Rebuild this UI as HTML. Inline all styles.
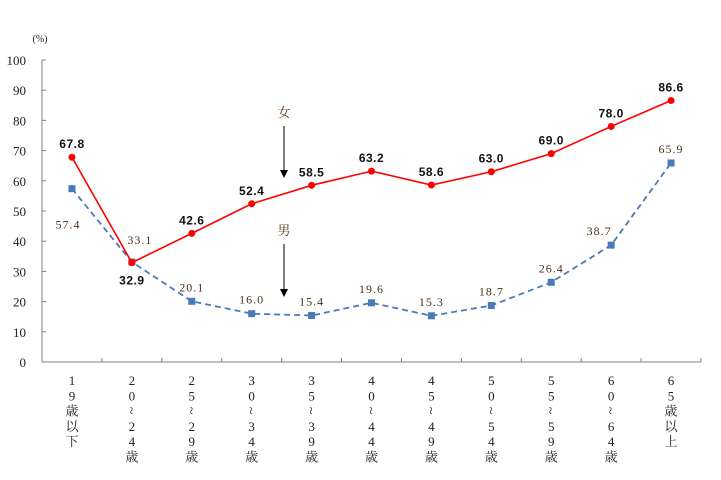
<!DOCTYPE html>
<html><head><meta charset="utf-8"><style>
body{margin:0;background:#fff}
svg{display:block}
</style></head><body>
<svg id="c" width="721" height="480" xmlns="http://www.w3.org/2000/svg"></svg>
<script>
const categories=[["1","9","歳","以","下"],["2","0","~","2","4","歳"],["2","5","~","2","9","歳"],["3","0","~","3","4","歳"],["3","5","~","3","9","歳"],["4","0","~","4","4","歳"],["4","5","~","4","9","歳"],["5","0","~","5","4","歳"],["5","5","~","5","9","歳"],["6","0","~","6","4","歳"],["6","5","歳","以","上"]];
const female=[67.8,32.9,42.6,52.4,58.5,63.2,58.6,63.0,69.0,78.0,86.6];
const male=[57.4,33.1,20.1,16.0,15.4,19.6,15.3,18.7,26.4,38.7,65.9];
const yTicks=[0,10,20,30,40,50,60,70,80,90,100];
const maleLabelPos=[[-4,36],[8,-22],[0,-14],[0,-14],[0,-14],[0,-14],[0,-14],[0,-14],[0,-14],[-12,-14],[0,-14]];
const NS="http://www.w3.org/2000/svg";
const svg=document.getElementById('c');
const X0=42,X1=701,Y0=362,Y1=60;
const bw=(X1-X0)/categories.length;
const xs=i=>X0+bw*(i+0.5);
const ys=v=>Y0-(v/100)*(Y0-Y1);
function mk(t,a,p){const e=document.createElementNS(NS,t);for(const k in a)e.setAttribute(k,a[k]);(p||svg).appendChild(e);return e;}
const SERIF='"Liberation Serif","Noto Serif CJK SC",serif';
const SANS='"Liberation Sans","Noto Sans CJK JP",sans-serif';
let ax=mk('line',{x1:X0,y1:Y1,x2:X0,y2:Y0,stroke:'#808080','stroke-width':1});

let bx=mk('line',{x1:X0,y1:Y0,x2:X1,y2:Y0,stroke:'#808080','stroke-width':1});

yTicks.forEach(v=>{
  mk('line',{x1:X0,y1:ys(v),x2:X0+4,y2:ys(v),stroke:'#808080'});
  const t=mk('text',{x:26,y:ys(v)+5,'text-anchor':'end','font-size':13,'font-family':SERIF,fill:'#222'});
  t.textContent=v;
  
});
const u=mk('text',{x:40,y:42,'text-anchor':'middle','font-size':10,'font-family':SERIF,fill:'#222'});u.textContent='(%)';

for(let i=1;i<=categories.length;i++){mk('line',{x1:X0+bw*i,y1:Y0,x2:X0+bw*i,y2:Y0-4,stroke:'#808080'});}
categories.forEach((c,i)=>{
  const g=mk('g',{});
  
  c.forEach((ch,j)=>{
    const y=385+j*15.3;
    if(ch==='~'){
      const t=mk('text',{x:xs(i),y:y,'text-anchor':'middle','font-size':14,'font-family':SERIF,fill:'#222',transform:`rotate(90 ${xs(i)} ${y-5})`},g);t.textContent='~';
    } else {
      const t=mk('text',{x:xs(i),y:y,'text-anchor':'middle','font-size':13,'font-family':SERIF,fill:'#222'},g);t.textContent=ch;
    }
  });
});
let pts=male.map((v,i)=>xs(i)+','+ys(v)).join(' ');
let ml=mk('polyline',{points:pts,fill:'none',stroke:'#4a7ab8','stroke-width':1.8,'stroke-dasharray':'6,4'});

male.forEach((v,i)=>{
  const r=mk('rect',{x:xs(i)-3.5,y:ys(v)-3.5,width:7,height:7,fill:'#4a7ab8'});
  
  const t=mk('text',{x:xs(i)+maleLabelPos[i][0],y:ys(v)+maleLabelPos[i][1]+4,'text-anchor':'middle','font-size':12,'font-family':SERIF,fill:'#4a3018','letter-spacing':'1'});
  t.textContent=v.toFixed(1);
  
});
pts=female.map((v,i)=>xs(i)+','+ys(v)).join(' ');
let fl=mk('polyline',{points:pts,fill:'none',stroke:'#ff0000','stroke-width':1.6});

female.forEach((v,i)=>{
  const c=mk('circle',{cx:xs(i),cy:ys(v),r:3.5,fill:'#ff0000'});
  
  const dy=i===1?18:-13;
  const t=mk('text',{x:xs(i),y:ys(v)+dy+4,'text-anchor':'middle','font-size':12,'font-weight':'bold','font-family':SANS,fill:'#111','letter-spacing':'0.5'});
  t.textContent=v.toFixed(1);
  
});
function ann(label,x,y,ay1,ay2,name){
  const t=mk('text',{x:x,y:y,'text-anchor':'middle','font-size':13,'font-family':SERIF,fill:'#5a3a1a'});t.textContent=label;
  
  mk('line',{x1:x,y1:ay1,x2:x,y2:ay2-6,stroke:'#000'});
  mk('polygon',{points:`${x-4},${ay2-8} ${x+4},${ay2-8} ${x},${ay2}`,fill:'#000'});
}
ann('女',284,117,126,178,'female-annotation');
ann('男',284,235,244,297,'male-annotation');
</script>
</body></html>
